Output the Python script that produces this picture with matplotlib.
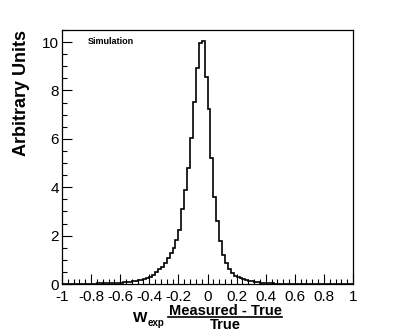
import numpy as np
import matplotlib
matplotlib.use("Agg")
import matplotlib.pyplot as plt
from matplotlib.lines import Line2D
from matplotlib.ticker import FixedLocator, FixedFormatter, MultipleLocator

plt.rcParams['font.family'] = ['Liberation Sans', 'DejaVu Sans']
plt.rcParams['axes.unicode_minus'] = False

# histogram binning: 100 bins on [-1, 1]
x_min, x_max, n_bins = -1.0, 1.0, 100

# bin contents, left to right
counts = [
    0.010, 0.010, 0.010, 0.012, 0.012, 0.014, 0.015, 0.015, 0.017, 0.018,
    0.020, 0.020, 0.022, 0.025, 0.027, 0.030, 0.033, 0.037, 0.040, 0.050,
    0.060, 0.070, 0.080, 0.090, 0.110, 0.130, 0.150, 0.170, 0.210, 0.250,
    0.300, 0.380, 0.510, 0.610, 0.720, 0.880, 1.060, 1.270, 1.480, 1.800,
    2.230, 3.100, 3.890, 4.790, 6.040, 7.540, 8.920, 9.970, 10.03, 8.550,
    7.230, 5.200, 3.610, 2.620, 1.790, 1.200, 0.870, 0.640, 0.440, 0.320,
    0.270, 0.230, 0.190, 0.160, 0.130, 0.110, 0.080, 0.070, 0.050, 0.045,
    0.035, 0.030, 0.025, 0.020, 0.020, 0.017, 0.015, 0.013, 0.012, 0.010,
    0.010, 0.009, 0.008, 0.008, 0.007, 0.007, 0.006, 0.006, 0.005, 0.005,
    0.005, 0.004, 0.004, 0.004, 0.003, 0.003, 0.003, 0.003, 0.002, 0.002,
]

x_ticks = [-1, -0.8, -0.6, -0.4, -0.2, 0, 0.2, 0.4, 0.6, 0.8, 1]
x_tick_labels = ["-1", "-0.8", "-0.6", "-0.4", "-0.2", "0", "0.2", "0.4", "0.6", "0.8", "1"]
y_ticks = [0, 2, 4, 6, 8, 10]
y_tick_labels = ["0", "2", "4", "6", "8", "10"]

W, H = 415, 335


def px(x, y):
    # pixel position (from top-left) -> figure fraction
    return x / W, 1 - y / H


fig = plt.figure(figsize=(W / 100, H / 100), dpi=100)
ax = fig.add_axes([62 / W, 1 - 284 / H, (353 - 62) / W, (284 - 30) / H])

edges = np.linspace(x_min, x_max, n_bins + 1)
ax.stairs(counts, edges, color='black', lw=1.2)

ax.set_xlim(x_min, x_max)
ax.set_ylim(0, 10.5)

ax.xaxis.set_major_locator(FixedLocator(x_ticks))
ax.xaxis.set_major_formatter(FixedFormatter(x_tick_labels))
ax.xaxis.set_minor_locator(MultipleLocator(0.04))
ax.yaxis.set_major_locator(FixedLocator(y_ticks))
ax.yaxis.set_major_formatter(FixedFormatter(y_tick_labels))
ax.yaxis.set_minor_locator(MultipleLocator(0.5))

ax.tick_params(which='both', direction='in', top=False, right=False, width=0.8)
ax.tick_params(which='major', length=7, labelsize=11)
ax.tick_params(which='minor', length=3.5)
ax.tick_params(axis='x', which='major', pad=4.5)
ax.tick_params(axis='y', which='major', pad=2)
for s in ax.spines.values():
    s.set_linewidth(0.9)

ax.text(*px(88, 41), "Simulation", transform=fig.transFigure,
        fontsize=6.5, fontweight='bold', ha='left', va='center')

fig.text(*px(21, 30), "Arbitrary Units", rotation=90, ha='center', va='top',
         fontsize=13, fontweight='bold')

# x label: W_exp (Measured - True)/True
fig.text(*px(133, 322), "W", fontsize=11, fontweight='bold', ha='left', va='baseline')
fig.text(*px(148, 326), "exp", fontsize=7, fontweight='bold', ha='left', va='baseline')
fig.text(*px(225, 315), "Measured - True", fontsize=10.5, fontweight='bold',
         ha='center', va='baseline')
fig.add_artist(Line2D([168 / W, 282 / W], [1 - 317 / H, 1 - 317 / H],
                      color='black', lw=1.2, transform=fig.transFigure))
fig.text(*px(225, 329), "True", fontsize=10.5, fontweight='bold', ha='center', va='baseline')

fig.savefig("out.png", dpi=100)
